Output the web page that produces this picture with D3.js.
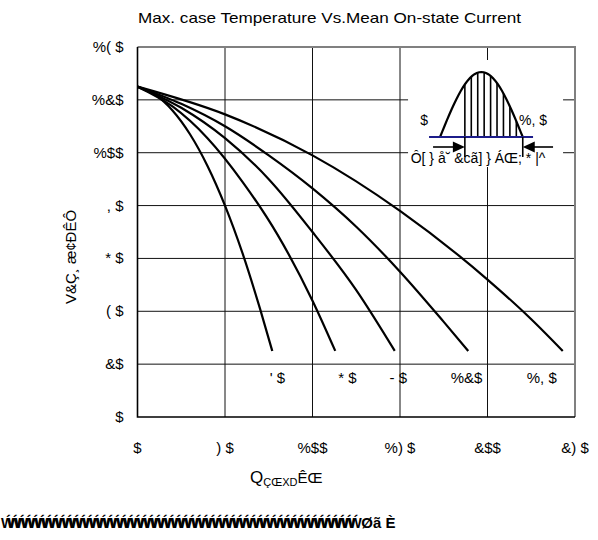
<!DOCTYPE html>
<meta charset="utf-8" />
<script src="https://d3js.org/d3.v7.min.js"></script>
<style>
  body { margin: 0; background: #fff; }
  text { font-family: "Liberation Sans", Arial, sans-serif; fill: #000; }
</style>
<body>
  <div id="chart"></div>
  <script>
    // axis ticks (labels kept as they appear in the picture)
    const xTicks = [0, 50, 100, 150, 200, 250];
    const xTickLabels = ["$", ") $", "%$$", "%) $", "&$$", "&) $"];
    const yTicks = [0, 20, 40, 60, 80, 100, 120, 140];
    const yTickLabels = ["$", "&$", "( $", "* $", ", $", "%$$", "%&$", "%( $"];

    // conduction angle curves: [mean current, case temperature]
    const curve30 = [[0, 125], [10, 122], [20, 116], [30, 107], [40, 95], [50, 80], [60, 62], [70, 41], [77, 25]];
    const curve60 = [[0, 125], [20, 117.5], [40, 105.5], [60, 89], [80, 69], [100, 44], [113, 25]];
    const curve90 = [[0, 125], [25, 117], [50, 105.5], [75, 90], [100, 70], [125, 48], [147, 25]];
    const curve120 = [[0, 125], [25, 118.5], [50, 110], [75, 99], [100, 86.5], [125, 72], [150, 55], [175, 36], [189, 25]];
    const curve180 = [[0, 125], [50, 114.5], [100, 99], [150, 78], [200, 52], [225, 37], [243, 25]];
    const curves = [curve30, curve60, curve90, curve120, curve180];
    const curveLabels = ["' $", "* $", "- $", "%&$", "%, $"];
    const curveLabelAt = [80, 120, 149, 188, 231];

    var margin = { top: 47, right: 23, bottom: 123, left: 137.5 },
      width = 598 - margin.left - margin.right,
      height = 540 - margin.top - margin.bottom;

    var svg = d3
      .select("#chart")
      .append("svg")
      .attr("width", 598)
      .attr("height", 540);

    var g = svg
      .append("g")
      .attr("transform", "translate(" + margin.left + "," + margin.top + ")");

    var x = d3.scaleLinear().domain([0, 250]).range([0, width]);
    var y = d3.scaleLinear().domain([0, 140]).range([height, 0]);

    // grid
    g.selectAll(".vgrid")
      .data(xTicks.slice(1, -1))
      .enter()
      .append("line")
      .attr("x1", (d) => x(d))
      .attr("x2", (d) => x(d))
      .attr("y1", 0)
      .attr("y2", height)
      .attr("stroke", "#111")
      .attr("stroke-width", 1);
    g.selectAll(".hgrid")
      .data(yTicks.slice(1, -1))
      .enter()
      .append("line")
      .attr("x1", 0)
      .attr("x2", width)
      .attr("y1", (d) => y(d))
      .attr("y2", (d) => y(d))
      .attr("stroke", "#111")
      .attr("stroke-width", 1);

    // tick labels
    g.selectAll(".xlab")
      .data(xTicks)
      .enter()
      .append("text")
      .attr("x", (d) => x(d))
      .attr("y", height + 36)
      .attr("text-anchor", "middle")
      .style("font-size", "15px")
      .text((d, i) => xTickLabels[i]);
    g.selectAll(".ylab")
      .data(yTicks)
      .enter()
      .append("text")
      .attr("x", -14)
      .attr("y", (d) => y(d) + 5)
      .attr("text-anchor", "end")
      .style("font-size", "15px")
      .text((d, i) => yTickLabels[i]);

    // inset with the conduction angle sketch
    var inset = g.append("g").attr("transform", "translate(" + (x(154.6)) + "," + 13 + ")");
    inset.append("rect").attr("width", 155).attr("height", 107).attr("fill", "#fff");

    var waveX = d3.scaleLinear().domain([0, 180]).range([32, 114.7]);
    var wave = d3.range(0, 181, 5).map((a) => [waveX(a), 77 - 65 * Math.sin((a * Math.PI) / 180)]);
    d3.range(54, 180, 14).forEach(function (a) {
      inset.append("line")
        .attr("x1", waveX(a)).attr("x2", waveX(a))
        .attr("y1", 77).attr("y2", 77 - 65 * Math.sin((a * Math.PI) / 180))
        .attr("stroke", "#000").attr("stroke-width", 1.6);
    });
    inset.append("path")
      .attr("d", d3.line()(wave))
      .attr("fill", "none")
      .attr("stroke", "#000")
      .attr("stroke-width", 2.2);
    inset.append("line")
      .attr("x1", 21).attr("x2", 125).attr("y1", 77).attr("y2", 77)
      .attr("stroke", "#1c1c8a").attr("stroke-width", 2);

    // arrows
    [[waveX(54), 25, 1], [waveX(180), 145, -1]].forEach(function (a) {
      var tip = a[0], tail = a[1], dir = a[2];
      inset.append("line")
        .attr("x1", tip).attr("x2", tip).attr("y1", 77).attr("y2", 97)
        .attr("stroke", "#000").attr("stroke-width", 1.6);
      inset.append("line")
        .attr("x1", tail).attr("x2", tip - dir * 10).attr("y1", 87).attr("y2", 87)
        .attr("stroke", "#000").attr("stroke-width", 1.6);
      inset.append("path")
        .attr("d", "M" + tip + ",87L" + (tip - dir * 12) + ",81.5L" + (tip - dir * 12) + ",92.5Z")
        .attr("fill", "#000");
    });
    inset.append("text").attr("x", 16).attr("y", 65).attr("text-anchor", "middle")
      .style("font-size", "14px").text("$");
    inset.append("text").attr("x", 125).attr("y", 65).attr("text-anchor", "middle")
      .style("font-size", "14px").text("%, $");
    inset.append("text").attr("x", 70).attr("y", 103).attr("text-anchor", "middle")
      .style("font-size", "14px").text("Ô[ } å˘ &cã] } ÁŒ; * |^");

    // frame
    g.append("path")
      .attr("d", "M0,0H" + width + "V" + height)
      .attr("fill", "none")
      .attr("stroke", "#808080")
      .attr("stroke-width", 2);
    g.append("path")
      .attr("d", "M0,0V" + height + "H" + width)
      .attr("fill", "none")
      .attr("stroke", "#000")
      .attr("stroke-width", 1.6);

    // curves
    var line = d3.line()
      .x((d) => x(d[0]))
      .y((d) => y(d[1]))
      .curve(d3.curveMonotoneX);
    g.selectAll(".curve")
      .data(curves)
      .enter()
      .append("path")
      .attr("d", line)
      .attr("fill", "none")
      .attr("stroke", "#000")
      .attr("stroke-width", 2.2);

    g.selectAll(".clab")
      .data(curveLabels)
      .enter()
      .append("text")
      .attr("x", (d, i) => x(curveLabelAt[i]))
      .attr("y", y(13))
      .attr("text-anchor", "middle")
      .style("font-size", "15px")
      .text((d) => d);

    // titles
    svg.append("text")
      .attr("x", 138)
      .attr("y", 23)
      .attr("textLength", 383)
      .attr("lengthAdjust", "spacingAndGlyphs")
      .style("font-size", "15px")
      .text("Max. case Temperature Vs.Mean On-state Current");

    svg.append("text")
      .attr("transform", "translate(76,257)rotate(-90)")
      .attr("text-anchor", "middle")
      .style("font-size", "15px")
      .text("V&Ç¸ æ¢ÐÊÔ");

    var xl = svg.append("text").attr("x", 250).attr("y", 483);
    xl.append("tspan").style("font-size", "17px").text("Q");
    xl.append("tspan").attr("dy", 3).style("font-size", "11px").text("ÇŒXD");
    xl.append("tspan").attr("dy", -3).style("font-size", "15px").text("ÊŒ");

    var bottom = svg.append("text").attr("x", 1).attr("y", 528).style("font-weight", "bold");
    bottom.append("tspan").style("font-size", "14px").style("letter-spacing", "-6.4px").text("Ẃ".repeat(52));
    bottom.append("tspan").attr("dx", 6).style("font-size", "15px").text("Øã È");
  </script>
</body>
